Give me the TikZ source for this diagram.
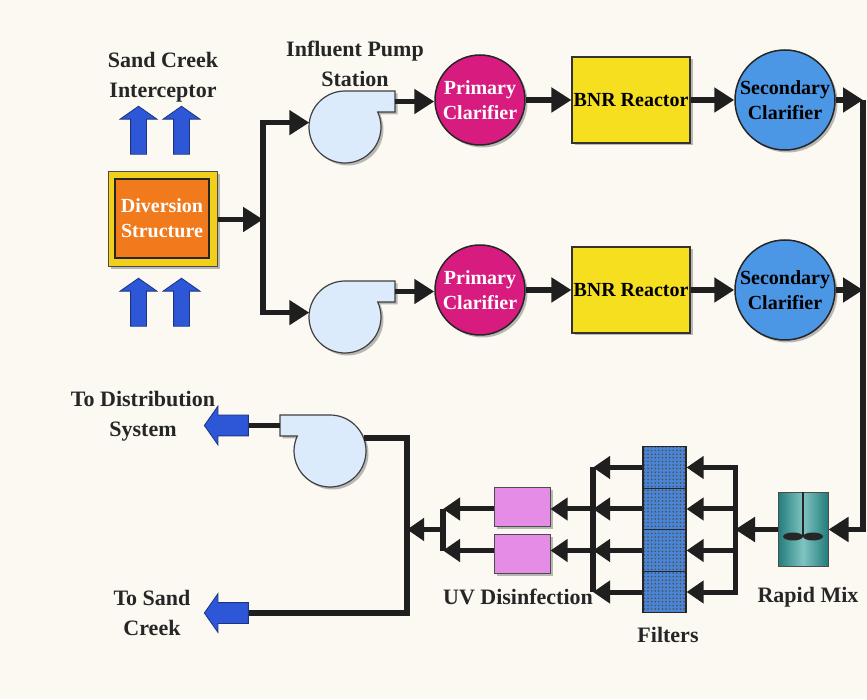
\documentclass[tikz,border=0pt]{standalone}
\usepackage{fontspec}
\setmainfont{Liberation Serif}
\usetikzlibrary{arrows.meta,positioning,shapes.arrows,shadows,patterns.meta,calc}

\definecolor{bgcream}{HTML}{FBF9F2}
\definecolor{pipegray}{HTML}{1F1F1F}
\definecolor{inkgray}{HTML}{262626}
\definecolor{clarpink}{HTML}{D81B7F}
\definecolor{bnryellow}{HTML}{F6DF1F}
\definecolor{secblue}{HTML}{4B97E6}
\definecolor{pumpblue}{HTML}{DCEBFB}
\definecolor{uvpink}{HTML}{E48CE6}
\definecolor{filterblue}{HTML}{4A84D4}
\definecolor{mixteal}{HTML}{2A9C9A}
\definecolor{divorange}{HTML}{F17A1C}
\definecolor{divyellow}{HTML}{F2CF1A}
\definecolor{arrowblue}{HTML}{2E57D8}

\tikzset{
  pipe/.style={draw=pipegray, line width=5.5pt},
  flow/.style={pipe, -{Triangle[length=20pt,width=24pt]}},
  flowsmall/.style={pipe, line width=5pt, -{Triangle[length=17pt,width=22pt]}},
  caption/.style={font=\bfseries\fontsize{22}{30}\selectfont, text=inkgray, align=center},
  unittext/.style={font=\bfseries\fontsize{20}{25}\selectfont, align=center},
  castshadow/.style={drop shadow={shadow xshift=2.5pt, shadow yshift=-2.5pt, fill=black!45, opacity=0.6}},
  primary/.style={circle, draw=black!85, line width=1.5pt, inner sep=0pt, minimum size=90pt,
    fill=clarpink, text=white, unittext, castshadow},
  secondary/.style={circle, draw=black!85, line width=1.5pt, inner sep=0pt, minimum size=100pt,
    fill=secblue, text=black, unittext, castshadow},
  reactor/.style={draw=black!80, line width=1.2pt, fill=bnryellow, minimum width=118pt,
    minimum height=86pt, inner sep=0pt, text=black, unittext, castshadow},
  divouter/.style={draw=black!70, line width=1pt, fill=divyellow, minimum width=109pt,
    minimum height=95pt, castshadow},
  divbox/.style={draw=black!85, line width=2pt, fill=divorange, minimum width=94pt,
    minimum height=79pt, inner sep=0pt, text=white, unittext},
  pumpcore/.style={circle, minimum size=72pt, inner sep=0pt, outer sep=0pt},
  pumpbody/.style={draw=black!75, line width=1.2pt, fill=pumpblue, castshadow},
  uvbox/.style={draw=black!70, line width=1pt, fill=uvpink, minimum width=56pt,
    minimum height=39pt, castshadow},
  filtercell/.style={draw=black!85, line width=1.2pt, minimum width=43pt, minimum height=41.5pt,
    inner sep=0pt, preaction={fill=filterblue},
    pattern={Dots[distance=3.6pt, radius=0.85pt]}, pattern color=black!70},
  mixbox/.style={draw=black!70, line width=1pt, minimum width=50pt, minimum height=73pt,
    left color=mixteal!80!black, right color=mixteal!80!black, middle color=mixteal!60!white},
  bluearrow/.style={single arrow, draw=arrowblue!60!black, line width=0.8pt, fill=arrowblue,
    single arrow tip angle=110},
  uparrow/.style={bluearrow, shape border rotate=90, inner sep=7.5pt, minimum height=48pt,
    single arrow head extend=10.5pt},
  outarrow/.style={bluearrow, shape border rotate=180, inner sep=10pt, minimum height=44pt,
    single arrow head extend=9pt}
}

\begin{document}
\begin{tikzpicture}[x=1pt,y=1pt]
  % Define the canvas
  \fill[bgcream] (0,0) rectangle (867,699);
  \useasboundingbox (0,0) rectangle (867,699);
  % Define the diversion structure and its inflows
  \path (163,622) node[caption] (interceptor) {Sand Creek\\Interceptor};
  \path (138.5,566) node[uparrow] (inA) {};
  \path (181.5,566) node[uparrow] (inB) {};
  \path (138.5,394) node[uparrow] (inC) {};
  \path (181.5,394) node[uparrow] (inD) {};
  \path (162.5,479.5) node[divouter] (divframe) {};
  \path (162,480.5) node[divbox] (diversion) {Diversion\\Structure};
  % Define the pumps
  \path (355,635.5) node[caption] (pumplabel) {Influent Pump\\Station};
  \path (345,572) node[pumpcore] (pump1) {};
  \path (345,382) node[pumpcore] (pump2) {};
  \path (330,248) node[pumpcore] (pump3) {};
  \path[pumpbody] (pump1.north) -- ++(50,0) -- ++(0,-21) -- ++(-17.3,0)
    arc[start angle=24.6, end angle=-270, radius=36] -- cycle;
  \path[pumpbody] (pump2.north) -- ++(50,0) -- ++(0,-21) -- ++(-17.3,0)
    arc[start angle=24.6, end angle=-270, radius=36] -- cycle;
  \path[pumpbody] (pump3.north) -- ++(-50,0) -- ++(0,-21) -- ++(17.3,0)
    arc[start angle=155.4, end angle=450, radius=36] -- cycle;
  \coordinate (o1) at ($(pump1)+(50,25.5)$);
  \coordinate (o2) at ($(pump2)+(50,25.5)$);
  \coordinate (o3) at ($(pump3)+(-50,25.5)$);
  % Define the two treatment trains
  \path (480,599) node[primary] (pc1) {Primary\\Clarifier};
  \path (631,599) node[reactor] (bnr1) {BNR Reactor};
  \path (785,599) node[secondary] (sc1) {Secondary\\Clarifier};
  \path (480,409) node[primary] (pc2) {Primary\\Clarifier};
  \path (631,409) node[reactor] (bnr2) {BNR Reactor};
  \path (785,409) node[secondary] (sc2) {Secondary\\Clarifier};
  % Define the tertiary steps
  \path (803,169.5) node[mixbox] (mix) {};
  \draw[line width=2.5pt, black!85] (mix.north) -- ++(0,-44);
  \fill[black!85] ($(mix.north)+(-10,-44)$) ellipse [x radius=10, y radius=4];
  \fill[black!85] ($(mix.north)+(10,-44)$) ellipse [x radius=10, y radius=4];
  \path (808,102) node[caption] (mixlabel) {Rapid Mix};
  \path (664.5,231.5) node[filtercell] (f1) {};
  \path (664.5,190) node[filtercell] (f2) {};
  \path (664.5,148.5) node[filtercell] (f3) {};
  \path (664.5,107) node[filtercell] (f4) {};
  \path (668,64) node[caption] (filterlabel) {Filters};
  \path (522,192) node[uvbox] (uv1) {};
  \path (522,145) node[uvbox] (uv2) {};
  \path (518,102) node[caption] (uvlabel) {UV Disinfection};
  % Define the outflows
  \path (230,273.5) node[outarrow] (outDist) {};
  \path (230,86) node[outarrow] (outSC) {};
  \path (143,283) node[caption] (distlabel) {To Distribution\\System};
  \path (152,86.5) node[caption] (creeklabel) {To Sand\\Creek};
  % Define the junctions
  \coordinate (jmid) at (263,479.5);
  \coordinate (r1) at (863,599);
  \coordinate (r2) at (863,409);
  \coordinate (fin) at (735,169.5);
  \coordinate (fout) at (593,169.5);
  \coordinate (uvout) at (443,169.5);
  \coordinate (main) at (407,169.5);
  % Draw the connections
  \draw[flow] (divframe) -- (jmid);
  \draw[flow] (jmid) |- (pump1.173);
  \draw[flow] (jmid) |- (pump2.173);
  \draw[flow] (o1) -- (pc1.west |- o1);
  \draw[flow] (o2) -- (pc2.west |- o2);
  \draw[flow] (pc1) -- (bnr1);
  \draw[flow] (bnr1) -- (sc1);
  \draw[flow] (pc2) -- (bnr2);
  \draw[flow] (bnr2) -- (sc2);
  \draw[flow] (sc1) -- (r1);
  \draw[flow] (sc2) -- (r2);
  \draw[flow] (r1) |- (mix);
  \draw[flow] (mix) -- (fin);
  \draw[flowsmall] (fin) |- (f1);
  \draw[flowsmall] (fin) |- (f4);
  \draw[flowsmall] (fin |- f2) -- (f2);
  \draw[flowsmall] (fin |- f3) -- (f3);
  \draw[pipe] (f1 -| fout) -- (f4 -| fout);
  \draw[flowsmall] (f1) -- (f1 -| fout);
  \draw[flowsmall] (f2) -- (f2 -| fout);
  \draw[flowsmall] (f3) -- (f3 -| fout);
  \draw[flowsmall] (f4) -- (f4 -| fout);
  \draw[flowsmall] (f2 -| fout) -- (uv1.east |- f2);
  \draw[flowsmall] (f3 -| fout) -- (uv2.east |- f3);
  \draw[pipe] (f2 -| uvout) -- (f3 -| uvout);
  \draw[flowsmall] (uv1.west |- f2) -- (f2 -| uvout);
  \draw[flowsmall] (uv2.west |- f3) -- (f3 -| uvout);
  \draw[flowsmall] (uvout) -- (main);
  \draw[pipe] (pump3.21) -| (main) |- (outSC.tail);
  \draw[pipe] (o3) -- (outDist.tail);
\end{tikzpicture}
\end{document}
